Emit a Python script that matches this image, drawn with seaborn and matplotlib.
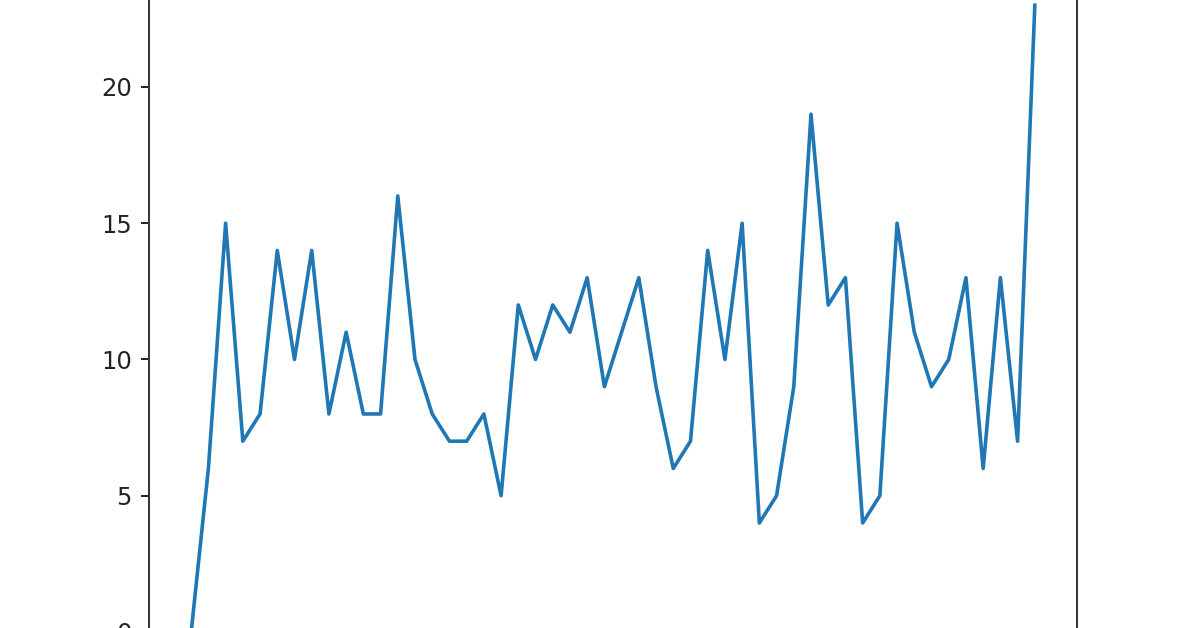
import matplotlib
matplotlib.use("Agg")
import matplotlib.pyplot as plt
import seaborn as sns
import pandas as pd

# values, one per step
steps = list(range(50))
counts = [0, 6, 15, 7, 8, 14, 10, 14, 8, 11,
          8, 8, 16, 10, 8, 7, 7, 8, 5, 12,
          10, 12, 11, 13, 9, 11, 13, 9, 6, 7,
          14, 10, 15, 4, 5, 9, 19, 12, 13, 4,
          5, 15, 11, 9, 10, 13, 6, 13, 7, 23]
y_ticks = [0, 5, 10, 15, 20]

df = pd.DataFrame({"step": steps, "count": counts})

fig = plt.figure(figsize=(11.96, 6.28), dpi=100)
# the reference is a crop of a bigger figure, so the axes run past the top and bottom edges
ax = fig.add_axes([149 / 1196, -0.0562, (1077 - 149) / 1196, 1.0978])

sns.lineplot(data=df, x="step", y="count", ax=ax, color="#1f77b4", linewidth=2.6)

ax.set_xlim(-2.45, 51.45)
ax.set_ylim(-1.15, 24.15)
ax.set_yticks(y_ticks)
ax.set_xticks([])
ax.set_xlabel("")
ax.set_ylabel("")
ax.tick_params(axis="y", labelsize=17.5, length=6.1, width=1.4, pad=6.3, colors="#222222")
for side in ["left", "right", "top", "bottom"]:
    ax.spines[side].set_linewidth(1.4)
    ax.spines[side].set_color("#333333")

fig.savefig("out.png", dpi=100)
